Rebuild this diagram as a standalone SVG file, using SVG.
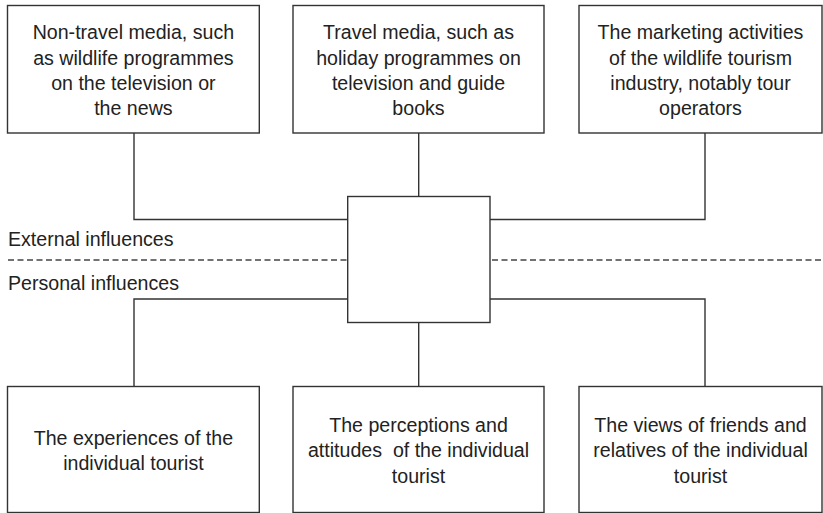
<svg xmlns="http://www.w3.org/2000/svg" width="823" height="513" viewBox="0 0 823 513">
<style>
.box{fill:#fff;stroke:#333;stroke-width:1.4}
.ln{fill:none;stroke:#333;stroke-width:1.4}
.dash{fill:none;stroke:#444;stroke-width:1.3;stroke-dasharray:6 3.5}
text{font-family:"Liberation Sans",Arial,sans-serif;font-size:19.6px;fill:#222}
.c{text-anchor:middle}
</style>
<rect width="823" height="513" fill="#fff"/>
<g id="connectors">
<polyline class="ln" points="134,133 134,219.5 348,219.5"/>
<line class="ln" x1="418.7" y1="133" x2="418.7" y2="196.5"/>
<polyline class="ln" points="490,219.5 705,219.5 705,133"/>
<polyline class="ln" points="348,299 134,299 134,386.5"/>
<line class="ln" x1="418.7" y1="322.5" x2="418.7" y2="386.5"/>
<polyline class="ln" points="490,299 705,299 705,386.5"/>
<line class="dash" x1="8" y1="260" x2="348" y2="260"/>
<line class="dash" x1="492" y1="260" x2="823" y2="260"/>
</g>
<g id="center"><rect class="box" x="347.7" y="196.5" width="142.3" height="126"/></g>
<g id="labels">
<text x="8" y="246">External influences</text>
<text x="8" y="290">Personal influences</text>
</g>
<g id="n1">
<rect class="box" x="7.5" y="5.5" width="251.8" height="127.5"/>
<text class="c" x="133.4" y="39.3">Non-travel media, such</text>
<text class="c" x="133.4" y="64.6">as wildlife programmes</text>
<text class="c" x="133.4" y="89.9">on the television or</text>
<text class="c" x="133.4" y="115.2">the news</text>
</g>
<g id="n2">
<rect class="box" x="293" y="5.5" width="251" height="127.5"/>
<text class="c" x="418.5" y="39.3">Travel media, such as</text>
<text class="c" x="418.5" y="64.6">holiday programmes on</text>
<text class="c" x="418.5" y="89.9">television and guide</text>
<text class="c" x="418.5" y="115.2">books</text>
</g>
<g id="n3">
<rect class="box" x="579" y="5.5" width="243" height="127.5"/>
<text class="c" x="700.5" y="39.3">The marketing activities</text>
<text class="c" x="700.5" y="64.6">of the wildlife tourism</text>
<text class="c" x="700.5" y="89.9">industry, notably tour</text>
<text class="c" x="700.5" y="115.2">operators</text>
</g>
<g id="n4">
<rect class="box" x="7.5" y="386.5" width="251.8" height="126"/>
<text class="c" x="133.4" y="444.5">The experiences of the</text>
<text class="c" x="133.4" y="469.8">individual tourist</text>
</g>
<g id="n5">
<rect class="box" x="293" y="386.5" width="251" height="126"/>
<text class="c" x="418.5" y="432">The perceptions and</text>
<text class="c" x="418.5" y="457.3" style="white-space:pre">attitudes  of the individual</text>
<text class="c" x="418.5" y="482.6">tourist</text>
</g>
<g id="n6">
<rect class="box" x="579" y="386.5" width="243" height="126"/>
<text class="c" x="700.5" y="432">The views of friends and</text>
<text class="c" x="700.5" y="457.3">relatives of the individual</text>
<text class="c" x="700.5" y="482.6">tourist</text>
</g>
</svg>
